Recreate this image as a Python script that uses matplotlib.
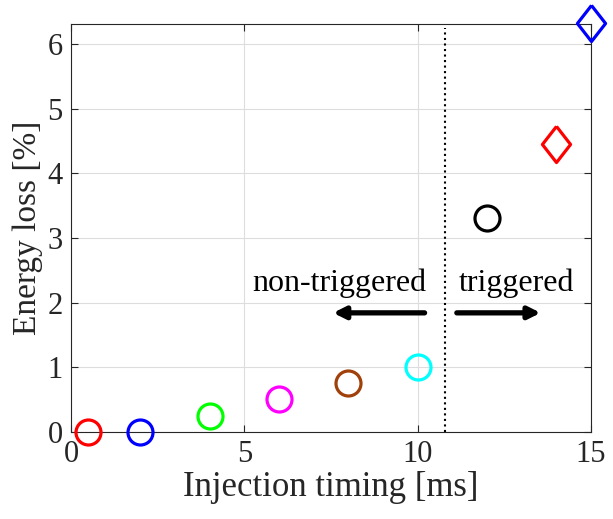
import matplotlib
matplotlib.use("Agg")
import matplotlib.pyplot as plt

# data
timing = [0.5, 2, 4, 6, 8, 10, 12, 14, 15]
loss = [0.0, 0.0, 0.25, 0.5, 0.75, 1.0, 3.3, 4.45, 6.33]
colors = ["#ff0000", "#0000ff", "#00ff00", "#ff00ff", "#a0400a",
          "#00ffff", "#000000", "#ff0000", "#0000ff"]
markers = ["o", "o", "o", "o", "o", "o", "o", "d", "d"]
threshold = 10.8

plt.rcParams["font.family"] = ["Liberation Serif", "DejaVu Serif"]

# MATLAB-like diamond (wider than matplotlib's thin 'd')
DIAMOND = [(0, 1), (0.78, 0), (0, -1), (-0.78, 0), (0, 1)]

fig = plt.figure(figsize=(6.13, 5.19), dpi=100)
ax = fig.add_axes([0.116, 0.168, 0.848, 0.786])

for x, y, c, m in zip(timing, loss, colors, markers):
    if m == "o":
        mk, ms = "o", 18
    else:
        mk, ms = DIAMOND, 26
    ax.plot(x, y, marker=mk, markersize=ms, markerfacecolor="none",
            markeredgecolor=c, markeredgewidth=2.3, linestyle="none",
            clip_on=False, zorder=5)

ax.plot([threshold, threshold], [0, 6.25], color="black", linestyle=":",
        linewidth=1.5, zorder=3)

arrow_kw = dict(arrowstyle="-|>,head_length=0.7,head_width=0.35",
                color="black", linewidth=3.8, shrinkA=0, shrinkB=0)
ax.annotate("", xy=(7.56, 1.84), xytext=(10.2, 1.84), arrowprops=arrow_kw)
ax.annotate("", xy=(13.55, 1.84), xytext=(11.13, 1.84), arrowprops=arrow_kw)
ax.text(7.73, 2.3, "non-triggered", ha="center", va="center", fontsize=23)
ax.text(12.84, 2.3, "triggered", ha="center", va="center", fontsize=23)

ax.set_xlim(0, 15)
ax.set_ylim(0, 6.31)
ax.set_xticks([0, 5, 10, 15])
ax.set_yticks([0, 1, 2, 3, 4, 5, 6])
ax.grid(True, color="#dddddd", linewidth=0.8)
ax.set_axisbelow(True)
ax.tick_params(direction="in", top=True, right=True, labelsize=22,
               length=5, colors="#262626", pad=6)
for s in ax.spines.values():
    s.set_color("#262626")
    s.set_linewidth(0.8)
ax.set_xlabel("Injection timing [ms]", fontsize=25, color="#262626", labelpad=1)
ax.set_ylabel("Energy loss [%]", fontsize=24, color="#262626", labelpad=3)

fig.savefig("out.png", dpi=100)
